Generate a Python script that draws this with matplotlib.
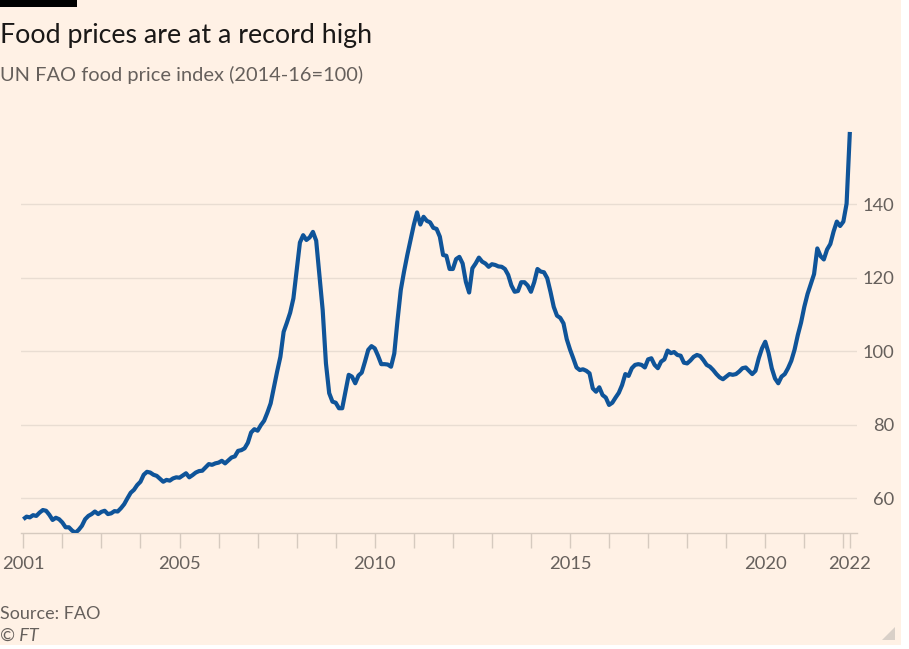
import matplotlib
matplotlib.use("Agg")
import matplotlib.pyplot as plt
from matplotlib.patches import Rectangle, Polygon
import numpy as np

# ---------------- data (UN FAO food price index, 2014-16=100, monthly) ----------------
start_year = 2001
index_values = [
    # 2001
    54.3, 55.0, 54.8, 55.4, 55.2, 56.1, 56.8, 56.6, 55.5, 54.1, 54.7, 54.3,
    # 2002
    53.4, 52.1, 52.1, 51.2, 50.6, 51.4, 52.5, 54.3, 55.2, 55.7, 56.4, 55.7,
    # 2003
    56.3, 56.6, 55.7, 55.9, 56.5, 56.4, 57.3, 58.4, 60.0, 61.5, 62.3, 63.6,
    # 2004
    64.5, 66.4, 67.2, 67.0, 66.4, 66.1, 65.3, 64.5, 65.0, 64.8, 65.4, 65.7,
    # 2005
    65.6, 66.2, 66.8, 65.7, 66.3, 67.0, 67.4, 67.5, 68.4, 69.3, 69.1, 69.5,
    # 2006
    69.7, 70.2, 69.5, 70.3, 71.1, 71.4, 72.9, 73.1, 73.6, 75.1, 77.9, 78.8,
    # 2007
    78.4, 79.9, 81.1, 83.3, 85.8, 90.2, 94.5, 98.5, 105.3, 107.8, 110.5, 114.4,
    # 2008
    122.1, 129.6, 131.6, 130.3, 131.0, 132.5, 130.1, 120.8, 111.2, 96.7, 88.6, 86.3,
    # 2009
    86.0, 84.5, 84.5, 89.0, 93.6, 93.1, 91.3, 93.4, 94.2, 97.2, 100.4, 101.4,
    # 2010
    100.8, 98.8, 96.5, 96.5, 96.4, 95.8, 99.4, 108.5, 116.7, 121.7, 126.2, 130.3,
    # 2011
    134.4, 137.8, 134.5, 136.6, 135.5, 135.1, 133.6, 133.3, 131.2, 126.2, 126.0, 122.4,
    # 2012
    122.4, 125.1, 125.7, 123.9, 118.9, 116.0, 122.6, 123.9, 125.5, 124.4, 123.9, 123.0,
    # 2013
    123.7, 123.5, 123.1, 123.0, 122.4, 120.8, 117.9, 116.2, 116.4, 118.8, 118.8, 117.9,
    # 2014
    116.2, 118.8, 122.4, 121.7, 121.5, 119.9, 116.2, 112.1, 109.7, 109.1, 107.6, 103.3,
    # 2015
    100.5, 98.1, 95.6, 94.9, 95.1, 94.7, 94.0, 89.9, 89.0, 90.2, 88.1, 87.4,
    # 2016
    85.4, 86.0, 87.4, 88.7, 90.8, 93.8, 93.3, 95.4, 96.3, 96.5, 96.3, 95.6,
    # 2017
    97.8, 98.1, 96.3, 95.4, 97.2, 97.8, 100.2, 99.5, 99.8, 99.0, 98.8, 96.9,
    # 2018
    96.7, 97.5, 98.5, 99.0, 98.7, 97.6, 96.3, 95.8, 94.9, 93.8, 92.9, 92.4,
    # 2019
    93.1, 93.8, 93.6, 93.8, 94.5, 95.4, 95.6, 94.7, 93.8, 94.7, 98.1, 100.8,
    # 2020
    102.6, 99.6, 95.4, 92.6, 91.3, 93.1, 93.8, 95.4, 97.4, 100.4, 104.4, 107.8,
    # 2021
    112.1, 115.6, 118.3, 121.0, 128.0, 125.9, 125.0, 127.7, 129.2, 132.6, 135.3, 134.1,
    # 2022
    135.3, 140.2, 159.7,
]

y_ticks = [60, 80, 100, 120, 140]
x_label_years = [2001, 2005, 2010, 2015, 2020]
last_label = "2022"
minor_years = list(range(2001, 2023))

title = "Food prices are at a record high"
subtitle = "UN FAO food price index (2014-16=100)"
source = "Source: FAO"
credit = "\u00a9 FT"

# ---------------- styling ----------------
BG = "#FFF1E5"
LINE = "#0F5499"
GREY = "#66605c"
GRID = "#e9ddd2"
AXIS = "#d6cabf"

W, H = 909, 649
DPI = 100
plt.rcParams["font.family"] = ["Lato", "DejaVu Sans"]

fig = plt.figure(figsize=(W / DPI, H / DPI), dpi=DPI, facecolor="white")

def fx(px):
    return px / W

def fy(py):
    return 1 - py / H

# beige canvas (reference has a thin white margin at right/bottom)
fig.patches.append(Rectangle((0, fy(645)), fx(901), 645 / H, transform=fig.transFigure,
                             facecolor=BG, edgecolor="none", zorder=-10))
# black bar top-left
fig.patches.append(Rectangle((0, fy(6.5)), fx(77), 6.5 / H, transform=fig.transFigure,
                             facecolor="black", edgecolor="none", zorder=5))
# resize triangle icon bottom-right
fig.patches.append(Polygon([(fx(895), fy(627)), (fx(895), fy(639.5)), (fx(882), fy(639.5))],
                           closed=True, transform=fig.transFigure,
                           facecolor="#d9d0c8", edgecolor="none", zorder=5))

ax_left, ax_right = 20.7, 856.7
ax_top, ax_bottom = 129.0, 532.7
ax = fig.add_axes([fx(ax_left), fy(ax_bottom), fx(ax_right - ax_left), (ax_bottom - ax_top) / H])
ax.set_facecolor("none")

t = start_year + np.arange(len(index_values)) / 12.0
ax.plot(t, index_values, color=LINE, lw=3.0, solid_joinstyle="round",
        solid_capstyle="butt", zorder=3)

ax.set_xlim(2000.933, 2022.342)
ax.set_ylim(50.63, 160.5)

for s in ["left", "right", "top"]:
    ax.spines[s].set_visible(False)
ax.spines["bottom"].set_color(AXIS)
ax.spines["bottom"].set_linewidth(1.0)

# y axis on the right, labels right-aligned
ax.set_yticks(y_ticks)
ax.set_yticklabels([str(v) for v in y_ticks])
ax.yaxis.set_ticks_position("right")
ax.tick_params(axis="y", which="both", length=0, pad=26.9, labelsize=13.2,
               labelcolor=GREY, right=False, left=False, labelright=True, labelleft=False)
for lbl in ax.get_yticklabels():
    lbl.set_horizontalalignment("right")
ax.grid(axis="y", color=GRID, lw=1.0, zorder=0)
ax.set_axisbelow(True)

# x ticks
last_t = t[-1]
major_pos = x_label_years + [last_t]
ax.set_xticks(major_pos)
ax.set_xticklabels([str(y) for y in x_label_years] + [last_label])
ax.set_xticks(minor_years, minor=True)
ax.tick_params(axis="x", which="both", direction="out", length=10.5, width=1.0,
               color=AXIS, labelsize=13.2, labelcolor=GREY, pad=6)

# texts
fig.text(fx(0.5), fy(42.7), title, fontsize=19.3, color="#1a1817", ha="left", va="baseline")
fig.text(fx(0.5), fy(81), subtitle, fontsize=14.4, color=GREY, ha="left", va="baseline")
fig.text(fx(0.5), fy(619), source, fontsize=13.0, color=GREY, ha="left", va="baseline")
fig.text(fx(0.5), fy(641), credit, fontsize=13.0, color=GREY, ha="left", va="baseline",
         style="italic")

fig.savefig("out.png", dpi=DPI, facecolor=fig.get_facecolor())
